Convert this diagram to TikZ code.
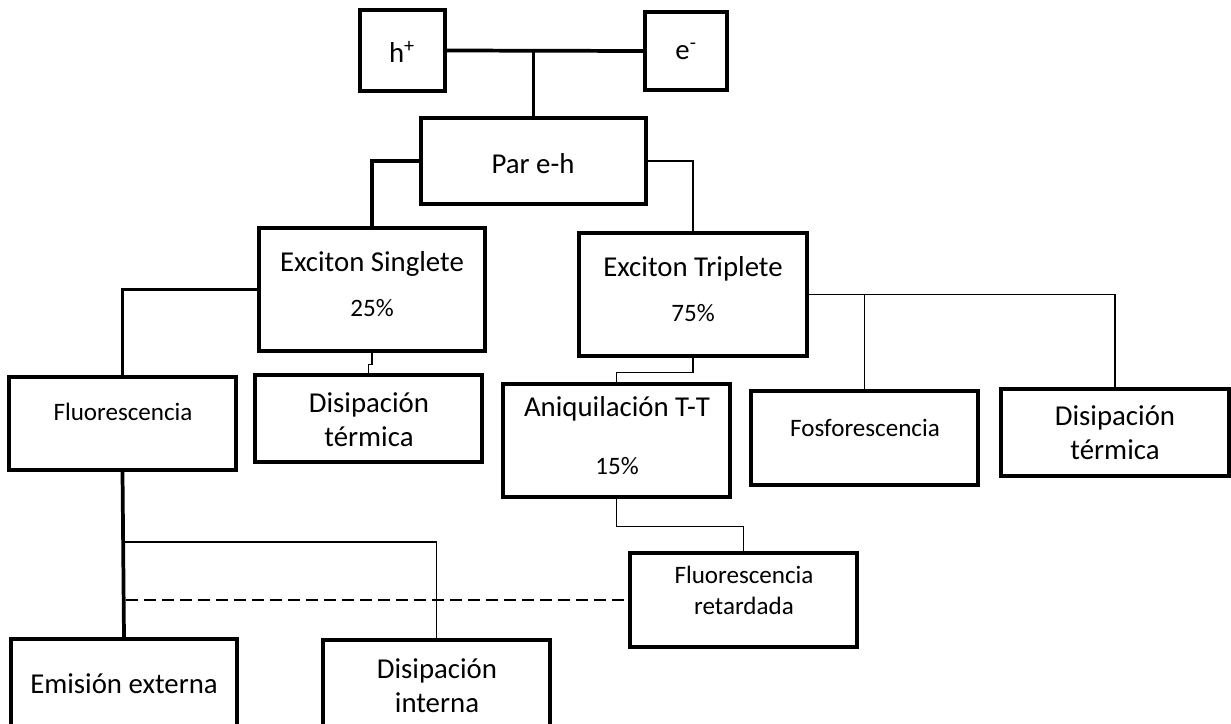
\documentclass[tikz,border=0pt]{standalone}
\usepackage{fontspec}
\setmainfont{Carlito}
% box from its corner coordinates: name, x1, y1, x2, y2
\newcommand\mkbox[5]{%
  \node[box, minimum width={(#4-#2)*0.75pt}, minimum height={(#5-#3)*0.75pt}]
    (#1) at ({(#2+#4)/2},{(#3+#5)/2}) {};}
\begin{document}
\begin{tikzpicture}[x=0.75pt,y=-0.75pt,
  box/.style={draw, line width=2.8pt, inner sep=0pt},
  heavy/.style={line width=2.8pt},
  light/.style={line width=0.9pt},
  dashline/.style={line width=1.4pt, dash pattern=on 9pt off 4.5pt},
  big/.style={font=\fontsize{21.6}{25.5}\selectfont, inner sep=0pt, align=center},
  small/.style={font=\fontsize{18.8}{23.3}\selectfont, inner sep=0pt, align=center},
]
\useasboundingbox (0,0) rectangle (1231,724);
\clip (0,0) rectangle (1231,724);

% boxes
\mkbox{hp}{360}{10}{445}{91}
\mkbox{el}{645}{12}{727}{90}
\mkbox{par}{421}{118}{646}{204}
\mkbox{sing}{259}{228}{485}{351}
\mkbox{trip}{579}{233}{807}{356}
\mkbox{flu}{9}{377}{236}{470}
\mkbox{dtl}{255}{375}{482}{462}
\mkbox{ani}{503}{384}{730}{497}
\mkbox{fos}{751}{391}{978}{485}
\mkbox{dtr}{1001}{389}{1229}{476}
\mkbox{fr}{630}{553}{857}{647}
\mkbox{emi}{11}{639}{237}{730}
\mkbox{din}{323}{640}{550}{731}

% texts
\node[big] (thp) at (402,52) {h\textsuperscript{+}};
\node[big] (tel) at (686,51) {e\textsuperscript{-}};
\node[big] (tpar) at (533,164) {Par e-h};
\node[big] (tsing) at (372,264) {Exciton Singlete};
\node[small] (psing) at (372,308) {25\%};
\node[big] (ttrip) at (693,269) {Exciton Triplete};
\node[small] (ptrip) at (693,313) {75\%};
\node[small] (tflu) at (123,412) {Fluorescencia};
\node[big] (tdtl) at (369,420) {Disipación\\térmica};
\node[big] (tani) at (617,409) {Aniquilación T-T};
\node[small] (pani) at (617,466) {15\%};
\node[small] (tfos) at (865,428) {Fosforescencia};
\node[big] (tdtr) at (1115,433) {Disipación\\térmica};
\node[small] (tfr) at (744,590) {Fluorescencia\\retardada};
\node[big] (temi) at (124,684) {Emisión externa};
\node[big] (tdin) at (437,686) {Disipación\\interna};

% connectors
\draw[heavy] (hp.east) -- (el.west);
\draw[heavy] (par.north) -- (par.north |- hp.east);
\draw[heavy] (par.west) -| (sing.north);
\draw[light] (par.east) -| (trip.north);
\draw[heavy] (sing.west) -| (flu.north);
\draw[light] (sing.south) -- ++(0,12) -| (dtl.north);
\draw[light] (trip.east) -| (dtr.north);
\draw[light] (fos.north) -- (fos.north |- trip.east);
\draw[light] (trip.south) -- ++(0,15) -| (ani.north);
\draw[light] (ani.south) -- ++(0,28) -| (fr.north);
\draw[heavy] (flu.south) -- (emi.north);
\coordinate (split) at (123,542);
\draw[light] (split) -| (din.north);
\coordinate (dstart) at (126,600);
\draw[dashline] (dstart) -- (fr.west);
\end{tikzpicture}
\end{document}
